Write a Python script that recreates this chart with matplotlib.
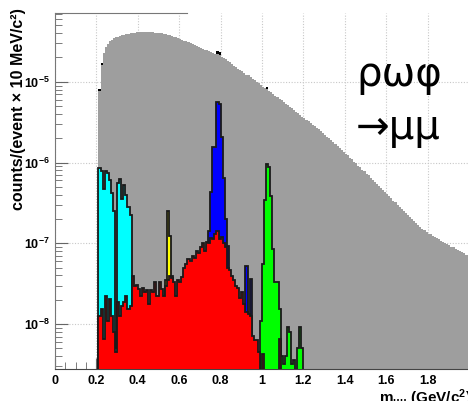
import numpy as np
import matplotlib
matplotlib.use("Agg")
import matplotlib.pyplot as plt
from matplotlib.ticker import MultipleLocator, LogLocator, NullFormatter

plt.rcParams['font.family'] = ['Liberation Sans', 'DejaVu Sans']
plt.rcParams['mathtext.fontset'] = 'custom'
plt.rcParams['mathtext.bf'] = 'Liberation Sans:bold'
plt.rcParams['mathtext.rm'] = 'Liberation Sans:bold'
plt.rcParams['mathtext.default'] = 'bf'

BIN = 0.01  # 10 MeV bins

# log10(counts) per 10 MeV bin
gray_start = 0.21
gray_log = [
    -5.11, -4.79, -4.64, -4.57, -4.53, -4.50, -4.48, -4.46, -4.45, -4.44,
    -4.43, -4.42, -4.415, -4.41, -4.405, -4.40, -4.395, -4.39, -4.385, -4.385,
    -4.38, -4.38, -4.38, -4.38, -4.38, -4.38, -4.385, -4.39, -4.39, -4.395,
    -4.40, -4.405, -4.41, -4.42, -4.425, -4.43, -4.44, -4.45, -4.46, -4.47,
    -4.48, -4.49, -4.50, -4.51, -4.52, -4.53, -4.545, -4.56, -4.57, -4.58,
    -4.59, -4.60, -4.61, -4.62, -4.63, -4.64, -4.65, -4.66, -4.67, -4.69,
    -4.70, -4.72, -4.74, -4.76, -4.78, -4.80, -4.82, -4.84, -4.85, -4.87,
    -4.89, -4.91, -4.92, -4.94, -4.96, -4.98, -5.00, -5.02, -5.04, -5.06,
    -5.08, -5.09, -5.11, -5.13, -5.15, -5.17, -5.19, -5.21, -5.23, -5.25,
    -5.27, -5.29, -5.31, -5.33, -5.35, -5.37, -5.39, -5.41, -5.43, -5.45,
    -5.47, -5.49, -5.51, -5.53, -5.55, -5.57, -5.59, -5.61, -5.63, -5.66,
    -5.68, -5.70, -5.72, -5.75, -5.77, -5.80, -5.82, -5.84, -5.87, -5.89,
    -5.91, -5.94, -5.96, -5.99, -6.01, -6.04, -6.06, -6.09, -6.11, -6.14,
    -6.16, -6.19, -6.21, -6.24, -6.26, -6.29, -6.31, -6.34, -6.37, -6.39,
    -6.42, -6.44, -6.47, -6.49, -6.52, -6.55, -6.57, -6.60, -6.62, -6.65,
    -6.67, -6.70, -6.72, -6.75, -6.77, -6.80, -6.82, -6.84, -6.86, -6.88,
    -6.89, -6.91, -6.92, -6.94, -6.95, -6.97, -6.98, -7.00, -7.01, -7.02,
    -7.04, -7.05, -7.07, -7.08, -7.10, -7.11, -7.12, -7.14, -7.15,
]

# small black excess poking above the gray (sum histogram)
bump_x = [0.21, 0.22, 0.78, 0.79, 1.02]
bump_log = [-5.09, -4.77, -4.62, -4.63, -5.06]

cyan_start = 0.21
cyan_log = [-6.07, -6.10, -6.33, -6.10, -6.13, -6.22, -6.38, -6.60, -8.30, -6.25,
            -6.20, -6.45, -6.28, -6.40, -6.55, -6.65]

yellow_start = 0.53
yellow_log = [-7.45, -6.60, -6.91, -7.40]

blue_start = 0.74
blue_log = [-6.85, -6.37, -5.81, -5.81, -5.25, -5.27, -5.68, -6.19, -6.70, -7.03,
            -7.50, -7.60, -7.70, -7.80, -7.90, -7.90, -8.00, -7.90, -7.28, -7.95,
            -7.44, -8.50]

green_start = 0.99
green_log = [-7.96, -7.26, -6.46, -6.02, -6.05, -6.42, -7.07, -7.48, -7.48, -7.81,
             -8.40, -8.50, -8.40, -8.03, -8.10, -8.50, -8.45, -10.0, -8.30, -8.03,
             -8.30]

red_start = 0.21
red_log = [
    -7.90, -7.81, -8.19, -7.65, -7.96, -7.69, -7.90, -8.10, -8.35, -7.73,
    -7.90, -7.78, -7.73, -7.65, -7.81, -7.78, -7.41, -7.53, -7.51, -7.57,
    -7.65, -7.55, -7.60, -7.58, -7.75, -7.58, -7.60, -7.48, -7.65, -7.48,
    -7.57, -7.65, -7.53, -7.45, -7.41, -7.43, -7.48, -7.65, -7.45, -7.48,
    -7.42, -7.30, -7.26, -7.20, -7.22, -7.16, -7.18, -7.10, -7.12, -7.05,
    -7.00, -7.10, -6.98, -7.00, -6.93, -6.95, -6.88, -6.85, -6.95, -6.92,
    -7.00, -7.05, -7.30, -7.33, -7.40, -7.45, -7.53, -7.55, -7.68, -7.60,
    -7.75, -7.85, -7.88, -7.90, -8.15, -8.20, -8.20, -8.35, -10.0, -8.37,
    -10.0, -10.0, -10.0, -10.0, -10.0, -10.0, -10.0, -8.19,
]

x_ticks = [0, 0.2, 0.4, 0.6, 0.8, 1.0, 1.2, 1.4, 1.6, 1.8]
x_ticklabels = ['0', '0.2', '0.4', '0.6', '0.8', '1', '1.2', '1.4', '1.6', '1.8']
y_ticks = [1e-8, 1e-7, 1e-6, 1e-5]
y_ticklabels = [r'$10^{-8}$', r'$10^{-7}$', r'$10^{-6}$', r'$10^{-5}$']

YMIN, YMAX = 10 ** -8.556, 10 ** -4.148
BASE = 1e-12


def hist(ax, start, logs, color, z, edge=True):
    vals = 10.0 ** np.array(logs)
    edges = start + BIN * np.arange(len(vals) + 1)
    ax.stairs(vals, edges, fill=True, baseline=BASE, facecolor=color,
              edgecolor='#1a1a1a' if edge else 'none',
              linewidth=1.3 if edge else 0, zorder=z)


fig = plt.figure(figsize=(4.68, 4.01), dpi=100)
ax = fig.add_axes([55 / 468, 32 / 401, 414 / 468, 356 / 401])
ax.set_yscale('log')
ax.set_xlim(0, 2.0)
ax.set_ylim(YMIN, YMAX)
ax.set_axisbelow(True)

# black bits of the summed histogram, then the gray total
bvals = 10.0 ** np.array(bump_log)
ax.bar(bump_x, bvals - BASE, width=BIN, bottom=BASE, align='edge',
       color='black', zorder=1)
hist(ax, gray_start, gray_log, '#9e9e9e', 2, edge=False)
hist(ax, cyan_start, cyan_log, '#00ffff', 3)
hist(ax, yellow_start, yellow_log, '#ffff00', 4)
hist(ax, blue_start, blue_log, '#0000ff', 5)
hist(ax, green_start, green_log, '#00ff00', 6)
hist(ax, red_start, red_log, '#ff0000', 7)

ax.set_xticks(x_ticks, x_ticklabels)
ax.xaxis.set_minor_locator(MultipleLocator(0.05))
ax.set_yticks(y_ticks, y_ticklabels)
ax.yaxis.set_minor_locator(LogLocator(base=10, subs=np.arange(2, 10)))
ax.yaxis.set_minor_formatter(NullFormatter())
ax.tick_params(which='both', direction='in', colors='#666666',
               labelcolor='black', labelsize=9)
ax.tick_params(axis='x', which='major', length=8, pad=4)
ax.tick_params(axis='x', which='minor', length=5)
ax.tick_params(axis='y', which='major', length=9, pad=4)
ax.tick_params(axis='y', which='minor', length=5)
for lab in ax.get_xticklabels() + ax.get_yticklabels():
    lab.set_fontweight('bold')

ax.grid(True, which='major', color='#c8c8c8', linestyle=(0, (1, 1.5)),
        linewidth=0.8)

for s in ['left', 'bottom', 'top', 'right']:
    ax.spines[s].set_color('#777777')
ax.spines['bottom'].set_color('#444444')
ax.spines['top'].set_bounds(0, 0.64)

ax.text(-0.088, 1.014, 'counts/(event \u00d7 10 MeV/c\u00b2)', rotation=90,
        ha='center', va='top', fontsize=11.5, fontweight='bold',
        transform=ax.transAxes)
ax.text(1.005, -0.094, r'm$_{\mu\mu}$ (GeV/c$^2$)', ha='right',
        va='baseline', fontsize=11, fontweight='bold',
        transform=ax.transAxes)

fig.text(399 / 468, 1 - 75 / 401, '\u03c1\u03c9\u03c6', ha='center',
         va='center', fontsize=29, family=['DejaVu Sans'])
fig.text(398 / 468, 1 - 128 / 401, '\u2192\u03bc\u03bc', ha='center',
         va='center', fontsize=29, family=['DejaVu Sans'])

fig.savefig('out.png', dpi=100)
